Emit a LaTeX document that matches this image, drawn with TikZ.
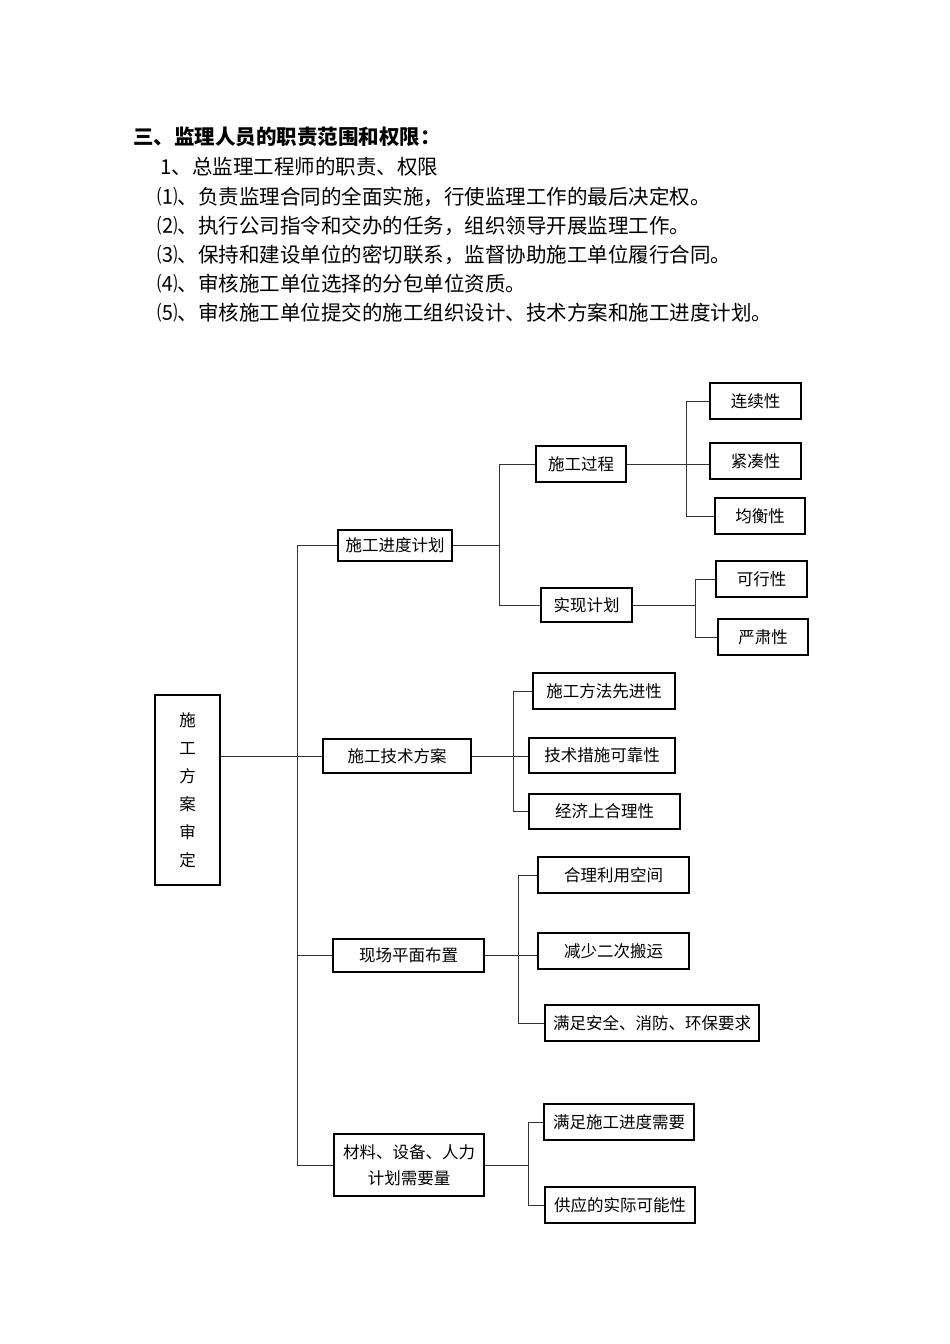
\documentclass[tikz,border=0pt]{standalone}
\usepackage{fontspec}
\newfontfamily\cjk{Noto Sans CJK SC}
\begin{document}
\begin{tikzpicture}[x=1pt,y=-1pt,
  bx/.style={draw,line width=2pt,inner sep=0pt,font=\cjk\fontsize{16.5}{22}\selectfont},
  ln/.style={line width=0.9pt,draw=black!80},
  hd/.style={anchor=west,inner sep=0pt,font=\cjk\fontsize{20.5}{22}\selectfont}]
\useasboundingbox (0,0) rectangle (950,1344);
% header
\node[hd,font=\cjk\bfseries\fontsize{20.5}{22}\selectfont] (h0) at (133,137) {三、监理人员的职责范围和权限：};
\node[hd] (h1) at (160,167) {1、总监理工程师的职责、权限};
\node[hd] (h2) at (157,197) {⑴、负责监理合同的全面实施，行使监理工作的最后决定权。};
\node[hd] (h3) at (157,226) {⑵、执行公司指令和交办的任务，组织领导开展监理工作。};
\node[hd] (h4) at (157,255) {⑶、保持和建设单位的密切联系，监督协助施工单位履行合同。};
\node[hd] (h5) at (157,284) {⑷、审核施工单位选择的分包单位资质。};
\node[hd] (h6) at (157,313) {⑸、审核施工单位提交的施工组织设计、技术方案和施工进度计划。};
% boxes
\newcommand{\bxat}[6]{\node[bx,minimum width=#4-#2,minimum height=#5-#3,align=center] (#1) at ({(#2+#4)/2},{(#3+#5)/2}) {#6};}
\bxat{R}{155}{695}{220}{885}{施\\[6pt]工\\[6pt]方\\[6pt]案\\[6pt]审\\[6pt]定}
\bxat{A}{338}{530}{452}{561}{施工进度计划}
\bxat{B}{323}{739}{471}{773}{施工技术方案}
\bxat{C}{333}{939}{484}{972}{现场平面布置}
\bxat{D}{334}{1134}{484}{1196}{材料、设备、人力\\[4pt]计划需要量}
\bxat{A1}{536}{446}{626}{482}{施工过程}
\bxat{A2}{541}{588}{632}{622}{实现计划}
\bxat{A11}{710}{383}{801}{419}{连续性}
\bxat{A12}{710}{443}{801}{479}{紧凑性}
\bxat{A13}{715}{498}{805}{534}{均衡性}
\bxat{A21}{716}{561}{807}{597}{可行性}
\bxat{A22}{718}{619}{808}{655}{严肃性}
\bxat{B1}{533}{673}{675}{709}{施工方法先进性}
\bxat{B2}{529}{738}{675}{773}{技术措施可靠性}
\bxat{B3}{529}{794}{680}{829}{经济上合理性}
\bxat{C1}{538}{857}{689}{893}{合理利用空间}
\bxat{C2}{538}{933}{689}{969}{减少二次搬运}
\bxat{C3}{545}{1005}{759}{1041}{满足安全、消防、环保要求}
\bxat{D1}{544}{1104}{694}{1140}{满足施工进度需要}
\bxat{D2}{545}{1187}{695}{1223}{供应的实际可能性}
% connectors
\draw[ln] (R.east |- B.west) -- (B.west);
\draw[ln] (297,0 |- A.west) -- (297,0 |- D.west);
\foreach \c in {A,C,D} \draw[ln] (297,0 |- \c.west) -- (\c.west);
\draw[ln] (A.east) -- (499,0 |- A.east);
\draw[ln] (499,0 |- A1.west) -- (499,0 |- A2.west);
\foreach \c in {A1,A2} \draw[ln] (499,0 |- \c.west) -- (\c.west);
\draw[ln] (A1.east) -- (A12.west |- A1.east);
\draw[ln] (686,0 |- A11.west) -- (686,0 |- A13.west);
\foreach \c in {A11,A13} \draw[ln] (686,0 |- \c.west) -- (\c.west);
\draw[ln] (A2.east) -- (695,0 |- A2.east);
\draw[ln] (695,0 |- A21.west) -- (695,0 |- A22.west);
\foreach \c in {A21,A22} \draw[ln] (695,0 |- \c.west) -- (\c.west);
\draw[ln] (B.east) -- (B2.west |- B.east);
\draw[ln] (513,0 |- B1.west) -- (513,0 |- B3.west);
\foreach \c in {B1,B3} \draw[ln] (513,0 |- \c.west) -- (\c.west);
\draw[ln] (C.east) -- (C2.west |- C.east);
\draw[ln] (518,0 |- C1.west) -- (518,0 |- C3.west);
\foreach \c in {C1,C3} \draw[ln] (518,0 |- \c.west) -- (\c.west);
\draw[ln] (D.east) -- (528,0 |- D.east);
\draw[ln] (528,0 |- D1.west) -- (528,0 |- D2.west);
\foreach \c in {D1,D2} \draw[ln] (528,0 |- \c.west) -- (\c.west);
\end{tikzpicture}
\end{document}
